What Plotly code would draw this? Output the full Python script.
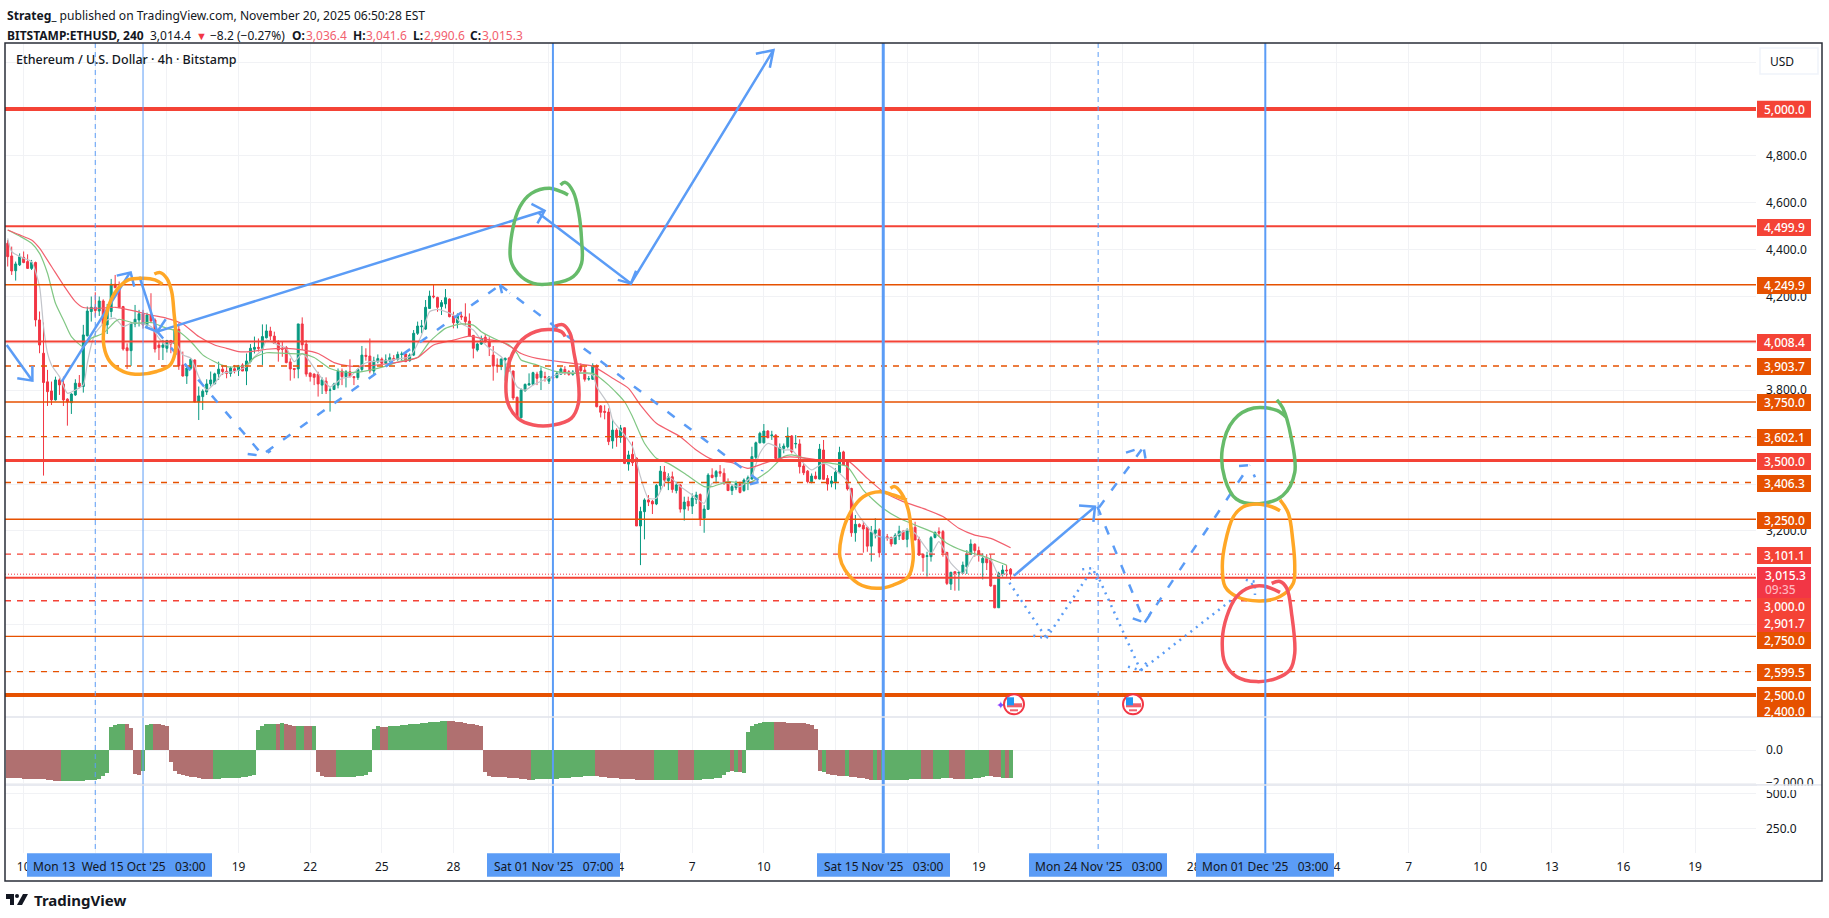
import pandas as pd
import plotly.graph_objects as go

W, H = 1829, 918

# ---------------- data ----------------
bar_start = pd.Timestamp("2025-10-09 11:00")
opens = [4427,4373,4310,4335,4367,4349,4320,4345,4100,3958,
3836,3797,3759,3844,3827,3762,3747,3780,3830,3816,
4033,4136,4154,4138,4181,4079,4136,4252,4239,4157,
3981,3969,4083,4100,4126,4079,4121,4100,3993,3983,
3979,4012,3998,4060,3908,3861,3894,3929,3750,3773,
3793,3827,3827,3870,3890,3881,3872,3892,3884,3908,
3882,3922,3975,3983,3979,4024,4053,4031,4003,3979,
3982,3921,3893,3891,4083,3997,3874,3869,3868,3822,
3839,3800,3803,3822,3882,3858,3879,3858,3854,3889,
3949,3946,3882,3922,3933,3915,3925,3936,3932,3953,
3955,3926,3950,4043,4071,4061,4149,4202,4196,4157,
4168,4189,4117,4088,4117,4113,4095,4034,3972,3997,
4026,4007,3950,3908,3901,3929,3938,3882,3770,3683,
3798,3822,3825,3869,3854,3858,3839,3856,3854,3869,
3889,3879,3868,3876,3903,3886,3848,3847,3905,3733,
3710,3707,3584,3630,3599,3640,3485,3527,3511,3221,
3282,3332,3326,3315,3393,3451,3414,3431,3372,3396,
3293,3326,3306,3335,3355,3254,3292,3438,3431,3453,
3446,3407,3372,3384,3403,3372,3410,3421,3514,3576,
3576,3626,3606,3608,3509,3552,3559,3605,3571,3571,
3477,3455,3410,3434,3421,3545,3424,3403,3410,3448,
3537,3495,3381,3192,3228,3224,3215,3135,3190,3204,
3107,3175,3172,3144,3178,3197,3164,3195,3215,3165,
3100,3091,3090,3172,3197,3197,3108,2973,3026,3020,
3019,3047,3100,3143,3116,3064,3083,3079,2968,2872,3016,3033,3036.4]
highs = [4441,4413,4349,4384,4392,4380,4356,4349,4136,4089,
3887,3837,3858,3851,3858,3766,3787,3847,3865,4079,
4157,4200,4218,4200,4188,4168,4275,4292,4264,4160,
4000,4089,4164,4143,4143,4131,4214,4107,4008,4015,
4015,4015,4079,4086,3965,3901,3937,3932,3816,3804,
3847,3880,3875,3922,3908,3901,3901,3908,3908,3915,
3957,3997,4029,4021,4081,4081,4071,4050,4014,4007,
3989,3936,3893,4083,4111,4014,3875,3872,3879,3855,
3855,3812,3832,3893,3893,3886,3932,3861,3893,3989,
3979,4021,3943,3953,3940,3953,3957,3950,3965,3965,
3957,3957,4057,4093,4100,4185,4225,4253,4199,4185,
4232,4192,4135,4128,4135,4171,4128,4036,4003,4033,
4040,4026,3989,3936,3936,3940,3940,3884,3773,3808,
3829,3872,3879,3879,3898,3879,3861,3865,3879,3898,
3903,3886,3886,3915,3915,3901,3861,3915,3911,3737,
3736,3723,3676,3638,3652,3642,3542,3581,3514,3303,
3339,3353,3332,3400,3477,3477,3446,3453,3410,3400,
3346,3346,3360,3367,3360,3310,3446,3467,3460,3481,
3467,3424,3396,3414,3410,3424,3436,3559,3581,3623,
3656,3630,3627,3613,3573,3573,3642,3609,3609,3591,
3488,3460,3445,3453,3571,3588,3438,3434,3467,3559,
3542,3502,3384,3268,3232,3239,3218,3221,3254,3211,
3190,3187,3175,3190,3222,3204,3211,3218,3239,3175,
3104,3111,3178,3197,3215,3204,3111,3026,3026,3029,
3069,3118,3164,3147,3133,3104,3101,3100,2969,3026,3054,3054,3041.6]
lows = [4328,4292,4268,4330,4342,4318,4313,4072,3958,3436,
3733,3737,3756,3780,3733,3649,3699,3776,3809,3790,
4029,4093,4114,4117,4043,4040,4111,4235,4150,3969,
3891,3904,4069,4072,4063,4069,4086,3961,3929,3929,
3961,3958,3958,3887,3858,3827,3887,3749,3673,3716,
3780,3816,3827,3844,3865,3851,3858,3872,3861,3882,
3822,3915,3957,3965,3908,4021,4014,3997,3922,3943,
3915,3841,3851,3851,3972,3858,3837,3822,3773,3784,
3784,3709,3801,3808,3822,3812,3855,3822,3844,3879,
3926,3872,3869,3915,3912,3912,3922,3926,3926,3926,
3922,3922,3946,4036,4043,4057,4149,4192,4135,4121,
4149,4111,4064,4064,4100,4078,4029,3936,3965,3993,
4003,3946,3841,3875,3886,3841,3879,3758,3680,3680,
3794,3822,3822,3822,3801,3837,3827,3837,3851,3865,
3865,3862,3862,3865,3875,3837,3841,3844,3727,3684,
3676,3566,3551,3559,3576,3485,3457,3477,3221,3054,
3164,3306,3272,3310,3367,3389,3374,3363,3360,3278,
3244,3286,3272,3315,3221,3192,3289,3424,3403,3431,
3396,3372,3353,3374,3360,3367,3374,3420,3495,3573,
3573,3595,3588,3505,3495,3531,3552,3531,3552,3445,
3438,3403,3403,3420,3420,3420,3372,3386,3377,3445,
3481,3372,3175,3154,3215,3107,3111,3069,3168,3087,
3104,3158,3133,3144,3161,3161,3130,3182,3161,3093,
3026,3005,3069,3168,3175,3090,2969,2948,2945,2945,
3016,3016,3097,3090,3069,2993,3033,2962,2870,2872,3005,3005,2990.6]
closes = [4370,4309,4339,4370,4345,4320,4345,4100,3993,3833,
3794,3759,3844,3823,3759,3750,3784,3830,3816,4036,
4138,4154,4140,4181,4079,4143,4252,4238,4153,3976,
3969,4086,4103,4126,4079,4121,4096,3976,3982,3993,
4012,3998,4060,3904,3861,3895,3932,3750,3776,3796,
3827,3844,3870,3890,3880,3872,3895,3884,3904,3882,
3925,3979,3983,3979,4029,4053,4031,4000,3972,3975,
3918,3891,3889,4083,3994,3869,3858,3855,3827,3844,
3797,3801,3827,3881,3858,3879,3858,3854,3889,3950,
3945,3882,3925,3935,3915,3929,3939,3929,3953,3955,
3922,3950,4043,4074,4074,4154,4202,4199,4154,4174,
4195,4114,4088,4117,4113,4093,4031,3979,3997,4021,
4007,3986,3903,3903,3933,3936,3884,3767,3684,3801,
3825,3828,3875,3851,3882,3855,3856,3851,3872,3891,
3875,3868,3878,3903,3884,3847,3849,3905,3730,3706,
3706,3581,3630,3599,3639,3488,3524,3491,3221,3283,
3332,3323,3315,3394,3455,3417,3431,3377,3396,3293,
3323,3306,3340,3353,3251,3293,3438,3428,3453,3446,
3403,3372,3389,3403,3364,3417,3427,3517,3576,3616,
3626,3598,3609,3509,3555,3562,3605,3538,3573,3474,
3448,3410,3434,3423,3549,3420,3400,3413,3450,3535,
3481,3379,3192,3228,3218,3208,3135,3194,3204,3107,
3175,3171,3144,3181,3199,3164,3201,3215,3161,3097,
3086,3094,3171,3194,3190,3107,2976,3023,3019,3023,
3054,3100,3144,3116,3097,3083,3064,2965,2872,3019,3033,3030,3015.3]

# moving averages, sampled at bar numbers
ma_red_bar = [0,3,6,8,11,14,17,19,23,27,32,36,40,44,48,52,55,58,61,65,70,74,78,82,86,91,95,99,103,107,112,116,119,124,127,129,133,137,142,147,152,156,159,163,169,173,177,182,186,190,195,199,204,211,216,220,225,230,235,239,243,247,252]
ma_red = [4484,4463,4441,4406,4328,4249,4178,4153,4150,4154,4138,4121,4107,4083,4029,3993,3979,3965,3965,3975,3979,3972,3957,3918,3903,3905,3912,3922,3940,3993,4014,4031,4021,4007,3979,3957,3936,3926,3915,3903,3851,3808,3737,3659,3602,3545,3505,3491,3467,3488,3514,3514,3502,3500,3424,3367,3325,3296,3261,3211,3182,3168,3128]
ma_green_bar = [0,3,6,8,10,12,14,16,19,21,24,27,28,32,36,40,43,46,49,52,55,58,60,62,65,70,74,77,81,84,87,91,95,99,103,106,110,114,117,119,124,126,128,129,133,137,142,147,151,155,157,160,163,166,170,175,177,181,186,191,195,197,202,207,211,215,220,224,228,233,236,240,245,251]
ma_green = [4484,4458,4427,4384,4299,4171,4100,4029,3986,4022,4043,4093,4103,4086,4089,4064,4050,4008,3951,3922,3901,3901,3908,3940,3960,3957,3955,3940,3893,3879,3876,3886,3903,3926,3940,4007,4064,4083,4078,4050,4007,3993,3957,3929,3908,3883,3872,3872,3822,3751,3687,3574,3510,3488,3446,3389,3389,3410,3403,3453,3517,3524,3502,3488,3474,3374,3296,3254,3225,3190,3147,3116,3093,3054]
ma_gray_bar = [0,1,4,6,8,9,10,11,13,15,17,19,20,21,22,25,27,29,31,33,36,38,40,42,44,46,48,50,52,54,57,60,62,64,65,68,70,72,74,75,78,81,84,86,89,91,95,99,101,104,106,108,112,114,117,119,121,124,126,128,130,132,135,139,143,147,148,151,152,155,157,159,161,163,166,169,172,175,177,181,184,187,189,191,195,197,200,202,205,208,211,213,216,218,222,226,228,232,234,237,240,243,247,249,251]
ma_gray = [4448,4392,4363,4349,4242,4072,3958,3908,3858,3787,3801,3823,3915,3993,4043,4100,4107,4072,4086,4086,4072,4022,3993,4008,3951,3937,3858,3801,3830,3872,3880,3901,3943,3972,4014,3993,3979,3922,3957,3943,3872,3815,3851,3858,3908,3922,3926,3936,3943,4036,4135,4145,4121,4085,4057,4014,3979,3943,3893,3815,3801,3822,3846,3872,3875,3865,3815,3737,3673,3609,3559,3431,3339,3339,3431,3389,3353,3318,3403,3403,3389,3438,3531,3573,3545,3545,3488,3460,3488,3460,3410,3289,3218,3182,3168,3204,3190,3104,3154,3062,3019,3097,3076,3012,3019]

# lower oscillator pane
osc_values = [-1697,-1697,-1717,-1717,-1737,-1737,-1737,-1737,-1757,-1757,-1798,-1818,-1858,-1879,
-1899,-1899,-1899,-1879,-1858,-1858,-1838,-1818,-1798,-1737,-1596,-1394,
1374,1515,1596,1596,1555,1333,-1434,-1495,-1293,1535,1596,1596,1576,1515,1475,
-747,-1293,-1434,-1535,-1596,-1636,-1656,-1697,-1737,-1757,-1778,
-1757,-1737,-1697,-1697,-1677,-1677,-1677,-1656,-1636,-1576,-1495,
1232,1434,1576,1596,1596,1596,1636,1576,1515,1475,1434,1454,1475,1475,1475,
-1353,-1596,-1636,-1656,-1656,
-1656,-1656,-1636,-1636,-1616,-1596,-1576,-1495,-1353,
1293,1475,1414,1414,
1434,1434,1454,1515,1535,1555,1576,1596,1616,1636,1677,1697,1717,1737,1778,
1757,1737,1697,1677,1636,1596,1555,1515,1454,
-1353,-1596,-1616,-1636,-1656,-1656,-1677,-1697,-1717,-1737,-1757,-1798,
-1798,-1737,-1737,-1737,-1737,-1737,-1737,-1677,-1677,-1677,-1616,-1616,-1616,-1555,-1555,-1555,
-1576,-1616,-1656,-1677,-1697,-1717,-1737,-1737,-1757,-1778,-1798,-1818,-1838,-1838,-1838,
-1838,-1838,-1818,-1798,-1798,-1798,-1798,-1798,-1798,-1798,
-1798,-1798,-1737,-1737,-1737,-1717,-1677,-1535,-1333,-1293,-1333,-1333,-1374,
1091,1475,1596,1656,1697,1717,1717,
1717,1717,1717,1656,1656,1656,1656,1616,1596,1535,1293,
-1293,-1313,-1454,-1495,-1515,-1555,-1555,-1555,
-1616,-1656,-1697,-1717,-1778,-1798,-1798,-1798,
-1798,-1798,-1798,-1798,-1798,-1798,-1798,-1737,-1737,-1737,
-1737,-1737,-1737,-1737,-1737,-1677,-1677,-1697,-1737,-1737,-1737,
-1737,-1737,-1697,-1677,-1616,-1596,-1576,-1636,-1656,-1677,-1677,-1677]
osc_up = ([0]*14+[1]*16+[0]*4+[1]*3+[0]*15+[1]*16+[0]*1+[1]*1+[0]*3+[1]*2+[0]*2+[1]*1+[0]*5+[1]*11
          +[0]*2+[1]*15+[0]*21+[1]*16+[0]*15+[1]*6+[0]*4+[1]*9+[0,1,0]+[1]*8+[0]*12+[1]+[0]*5+[1]+[0]*6
          +[1,0]+[1]*10+[0]*3+[1]*4+[0]*4+[1]*6+[0]*3+[1,0,1])

level_values = [5000.0,4499.9,4249.9,4008.4,3903.7,3750.0,3602.1,3500.0,3406.3,3250.0,3101.1,3000.0,2901.7,2750.0,2599.5,2500.0]
last_price = 3015.3
price_ticks = [5200,5000,4800,4600,4400,4200,4000,3800,3600,3400,3200,3000,2800,2600,2400]
price_tick_labels = ["","","4,800.0","4,600.0","4,400.0","4,200.0","","3,800.0","","","3,200.0","","","",""]
osc_ticks = [0,-2000]
vol_ticks = [500,250]
day_ticks = ["2025-10-10","2025-10-13","2025-10-16","2025-10-19","2025-10-22","2025-10-25","2025-10-28",
             "2025-11-01","2025-11-04","2025-11-07","2025-11-10","2025-11-13","2025-11-16","2025-11-19",
             "2025-11-22","2025-11-25","2025-11-28","2025-12-01","2025-12-04","2025-12-07","2025-12-10",
             "2025-12-13","2025-12-16","2025-12-19"]
day_labels = ["10","","","19","22","25","28","","4","7","10","","","19","","","28","","4","7","10","13","16","19"]

# hand drawings: [bar number, price]; None separates strokes
solid_bar = [-0.25,6.2,None,6.2,6.2,2.4,None,13.6,30.7,None,27.4,30.9,31.8,None,33.1,37.6,None,39.7,37.6,34.5,None,37.6,134.9,None,131.6,134.9,133.1,None,
             133.5,156.6,192.4,None,153.3,156.6,157.9,None,188,192.4,191.5,None,252.8,273.2,None,269.2,273.2,272.8]
solid_px = [3993,3841,None,3904,3841,3851,None,3837,4302,None,4289,4302,4242,None,4285,4050,None,4103,4050,4071,None,4050,4566,None,4595,4566,4512,None,
            4554,4256,5251,None,4271,4256,4310,None,5236,5251,5176,None,3008,3303,None,3308,3303,3239]
dash_bar = [37.6,63.6,None,60.3,64.1,66.1,None,64.9,123.7,None,124.2,123.7,126.2,None,123.7,189,None,186.5,189,189.6,None,
            274.2,285.4,None,281,285.4,286,None,273.8,285.7,None,282.7,285.7,287.4,None,285.7,312.1,None,309.4,312.1,313.4]
dash_px = [4050,3532,None,3528,3520,3542,None,3537,4249,None,4214,4249,4214,None,4249,3410,None,3399,3410,3460,None,
           3300,3558,None,3534,3558,3498,None,3303,2809,None,2827,2809,2855,None,2809,3481,None,3477,3481,3429]
dot_bar = [251.7,261,None,257.7,261,261.7,None,261,272.7,None,270,272.7,273.8,None,273.6,284.7,None,281.5,284.7,286.6,None,284.7,313.4,None,311.1,313.4,313.4]
dot_px = [2979,2742,None,2753,2742,2785,None,2742,3041,None,3036,3041,2988,None,3019,2604,None,2621,2604,2649,None,2604,2983,None,2991,2983,2927]

orange1_bar = [36.85,38.3,39.95,41.2,41.8,42.3,42.04,40.8,37.4,33.2,29.06,25.7,24.2,24.2,25.3,27.4,30.3,34.1,37,38.9]
orange1_px = [4296,4302,4278,4221,4128,4029,3958,3908,3880,3868,3880,3922,3986,4072,4157,4228,4271,4278,4271,4252]
green1_bar = [138.9,140.1,142.1,143.5,144.2,144.2,142.1,137.1,132.1,128.2,126.4,126.7,128.7,131.6,136.1,139.1,140.8]
green1_px = [4676,4687,4647,4555,4441,4342,4285,4256,4256,4299,4356,4470,4583,4640,4662,4647,4633]
red1_bar = [137.6,139.6,141.3,142.3,143.3,143.4,141.6,137.1,132.1,128.2,125.7,125.2,126.2,129.2,134.1,139.1,140.1]
red1_px = [4074,4079,4043,3958,3858,3744,3680,3652,3652,3680,3744,3830,3929,4015,4057,4050,4029]
orange2_bar = [221.8,222.9,224.6,226.3,227.1,227.5,226.3,222.5,218.3,213.7,210.4,209.1,209.5,211.6,215,219.2,222.5,225.9]
orange2_px = [3382,3389,3360,3289,3190,3076,3005,2969,2955,2976,3033,3090,3175,3275,3346,3367,3353,3332]
green2_bar = [318.9,320.4,322.5,323.4,320.4,314.5,308.7,305.8,305.2,308.1,313.1,318.9,321.3]
green2_px = [3759,3724,3599,3450,3351,3316,3336,3425,3550,3674,3724,3714,3684]
orange3_bar = [319.7,317.6,313.8,310.5,308,305.9,305.2,305.9,308.8,314.7,319.7,323,323.4,322.9,321.8,319.7]
orange3_px = [3286,3303,3315,3303,3261,3147,3047,2962,2920,2901,2920,2976,3047,3161,3275,3332]
red3_bar = [317.6,319.7,321.4,322.6,323.4,322.2,318.8,313.8,308.8,305.9,305.2,306.3,308.8,312.1,315.5,319.7]
red3_px = [2976,2984,2955,2848,2678,2607,2571,2557,2578,2635,2735,2834,2920,2959,2965,2938]

vline_thin_dates = ["2025-10-15 03:00"]
vline_dash_dates = ["2025-10-13 03:00","2025-11-24 03:00"]
vline_bold_dates = ["2025-11-01 07:00","2025-12-01 03:00"]
vline_heavy_dates = ["2025-11-15 03:00"]

price_tag_text = ["5,000.0","4,499.9","4,249.9","4,008.4","3,903.7","3,750.0","3,602.1","3,500.0","3,406.3","3,250.0","3,101.1","3,000.0","2,901.7","2,750.0","2,599.5","2,500.0"]

# ---------------- styling ----------------
RED, ORANGE, BLUE = "#f44336", "#e65100", "#5b9cf6"
UP, DOWN = "#089981", "#f23645"
INK = "#131722"
FONT = "Noto Sans"
GRID = "#f1f2f5"
THIN = 1.4
level_style = [(RED,4,"solid"),(RED,2,"solid"),(ORANGE,THIN,"solid"),(RED,2,"solid"),(ORANGE,THIN,"6px,6px"),(ORANGE,THIN,"solid"),
               (ORANGE,THIN,"6px,6px"),(RED,3,"solid"),(ORANGE,THIN,"6px,6px"),(ORANGE,THIN,"solid"),(RED,THIN,"6px,6px"),(RED,2,"solid"),
               (RED,THIN,"6px,6px"),(ORANGE,THIN,"solid"),(ORANGE,THIN,"6px,6px"),(ORANGE,4,"solid")]
tag_style = [RED,RED,ORANGE,RED,ORANGE,ORANGE,ORANGE,RED,ORANGE,ORANGE,RED,RED,RED,ORANGE,ORANGE,ORANGE]
tag_center = [109.3,227.5,285.5,342.5,366.5,402.5,437.5,461.5,483.5,520.5,555.5,606.5,623.5,640.5,672.5,695.5]

def bar_time(i):
    return bar_start + pd.Timedelta(hours=4) * i

def bar_times(seq):
    return [None if i is None else bar_time(i) for i in seq]

def PX(x): return x / W
def PY(y): return 1 - y / H

X0, X1, TOP, P1, P2, P3, BOT = 5, 1756, 43, 717, 785, 853, 881
x_left, x_right = bar_time(-0.68), bar_time(439.3)

times = [bar_time(i) for i in range(len(opens))]
fig = go.Figure()

fig.add_trace(go.Candlestick(x=times, open=opens, high=highs, low=lows, close=closes, xaxis="x", yaxis="y",
    increasing=dict(line=dict(color=UP, width=1), fillcolor=UP),
    decreasing=dict(line=dict(color=DOWN, width=1), fillcolor=DOWN), whiskerwidth=0, hoverinfo="skip"))
for bars, vals, col in [(ma_gray_bar, ma_gray, "#c2c4ca"), (ma_green_bar, ma_green, "#81c784"), (ma_red_bar, ma_red, "#f2606e")]:
    fig.add_trace(go.Scatter(x=bar_times(bars), y=vals, mode="lines", line=dict(color=col, width=1.2, shape="spline", smoothing=0.6), hoverinfo="skip"))

for v, (c, w, d) in zip(level_values, level_style):
    fig.add_trace(go.Scatter(x=[x_left, x_right], y=[v, v], mode="lines", line=dict(color=c, width=w, dash=d), hoverinfo="skip"))
fig.add_trace(go.Scatter(x=[x_left, x_right], y=[last_price, last_price], mode="lines", line=dict(color=DOWN, width=1, dash="1px,2px"), hoverinfo="skip"))

fig.add_trace(go.Scatter(x=bar_times(solid_bar), y=solid_px, mode="lines", line=dict(color=BLUE, width=2.5), connectgaps=False, hoverinfo="skip"))
fig.add_trace(go.Scatter(x=bar_times(dash_bar), y=dash_px, mode="lines", line=dict(color=BLUE, width=2.5, dash="9px,12px"), connectgaps=False, hoverinfo="skip"))
fig.add_trace(go.Scatter(x=bar_times(dot_bar), y=dot_px, mode="lines", line=dict(color=BLUE, width=2.5, dash="2px,5px"), connectgaps=False, hoverinfo="skip"))
for bars, vals, col in [(orange1_bar, orange1_px, "#ffa726"), (green1_bar, green1_px, "#66bb6a"), (red1_bar, red1_px, "#f4565f"),
                        (orange2_bar, orange2_px, "#ffa726"), (green2_bar, green2_px, "#66bb6a"),
                        (orange3_bar, orange3_px, "#ffa726"), (red3_bar, red3_px, "#f4565f")]:
    fig.add_trace(go.Scatter(x=bar_times(bars), y=vals, mode="lines", line=dict(color=col, width=3.5, shape="spline", smoothing=1), hoverinfo="skip"))

osc_colors = ["#5fae68" if u else "#b07070" for u in osc_up][:len(osc_values)]
fig.add_trace(go.Bar(x=times, y=osc_values, xaxis="x", yaxis="y2", marker=dict(color=osc_colors, line=dict(width=0)),
                     width=4 * 3600 * 1000, hoverinfo="skip"))
fig.add_trace(go.Scatter(x=[x_left], y=[vol_ticks[0]], xaxis="x", yaxis="y3", mode="markers", marker=dict(opacity=0), hoverinfo="skip"))

def ydom(top, bottom):
    return [PY(bottom), PY(top)]

PRICE_RANGE = [2406, 5281.6]
common_y = dict(side="right", anchor="x", ticks="", ticklen=0, ticklabelstandoff=9, showline=False, zeroline=False, automargin=False,
                gridcolor=GRID, gridwidth=1, tickfont=dict(family=FONT, size=12, color=INK), tickmode="array")

day_dates = [pd.Timestamp(d) + pd.Timedelta(hours=3) for d in day_ticks]
fig.update_layout(
    width=W, height=H, autosize=False, margin=dict(l=0, r=0, t=0, b=0, pad=0), paper_bgcolor="white", plot_bgcolor="white",
    showlegend=False, font=dict(family=FONT, color=INK, size=12), bargap=0,
    xaxis=dict(domain=[PX(X0), PX(X1)], range=[x_left, x_right], type="date", anchor="y3", rangeslider=dict(visible=False), automargin=False,
               tickmode="array", tickvals=day_dates, ticktext=day_labels, ticks="", ticklabelstandoff=5, showline=False, zeroline=False,
               gridcolor=GRID, gridwidth=1, tickfont=dict(family=FONT, size=12, color=INK)),
    yaxis=dict(domain=ydom(TOP, P1), range=PRICE_RANGE, tickvals=price_ticks, ticktext=price_tick_labels, **common_y),
    yaxis2=dict(domain=ydom(P1, P2), range=[-2121, 2000], tickvals=osc_ticks, ticktext=["0.0", "\u22122,000.0"], **common_y),
    yaxis3=dict(domain=ydom(P2, P3), range=[78.6, 564], tickvals=vol_ticks, ticktext=["500.0", "250.0"], **common_y),
)

shapes, notes = [], []

def rect(x0, y0, x1, y1, fill, line=None, lw=0, **kw):
    shapes.append(dict(type="rect", xref="paper", yref="paper", x0=PX(x0), x1=PX(x1), y0=PY(y0), y1=PY(y1),
                       fillcolor=fill, line=dict(color=line or fill, width=lw), **kw))

def text(x, y, s, size=12, color=INK, anchor="left", family=FONT, weight=400):
    notes.append(dict(xref="paper", yref="paper", x=PX(x), y=PY(y), text=s, showarrow=False, xanchor=anchor, yanchor="middle",
                      font=dict(family=family, size=size, color=color, weight=weight), align="left", borderpad=0))

for dates, w, d in [(vline_thin_dates, 1, "solid"), (vline_dash_dates, 1, "5px,4px"), (vline_bold_dates, 2, "solid"), (vline_heavy_dates, 3, "solid")]:
    for dt in dates:
        shapes.append(dict(type="line", xref="x", yref="paper", x0=dt, x1=dt, y0=PY(TOP), y1=PY(P3), line=dict(color=BLUE, width=w, dash=d)))

for y in (P1, P2):
    shapes.append(dict(type="line", xref="paper", yref="paper", x0=PX(X0), x1=PX(1822), y0=PY(y), y1=PY(y), line=dict(color="#e0e3eb", width=1.5)))
rect(1757, 785.8, 1821, 790, "white")

for c, col, s in zip(tag_center, tag_style, price_tag_text):
    rect(1757, c - 8.5, 1811, c + 8.5, col)
    text(1784, c, s, color="white", anchor="center", weight=500)
rect(1757, 567, 1811, 598, "#f23645")
text(1764, 575, "3,015.3", color="white", weight=500)
text(1764, 589, "09:35", color="#ffb3bc", weight=500)
rect(1757, 704, 1811, 717, ORANGE)
text(1784, 711.5, "2,400.0", color="white", anchor="center", weight=500)

rect(1760, 48, 1818, 74, "white", line="#f0f3fa", lw=1.5)
text(1769, 61, "USD")

for x0, x1, s in [(27, 212, "Mon 13\u00a0\u00a0Wed 15 Oct '25\u00a0\u00a0\u00a003:00"), (487, 620, "Sat 01 Nov '25\u00a0\u00a0\u00a007:00"),
                  (817, 950, "Sat 15 Nov '25\u00a0\u00a0\u00a003:00"), (1029, 1167, "Mon 24 Nov '25\u00a0\u00a0\u00a003:00"),
                  (1196, 1334, "Mon 01 Dec '25\u00a0\u00a0\u00a003:00")]:
    rect(x0, 853.3, x1, 876.7, BLUE)
    text((x0 + x1) / 2, 866, s, anchor="center")

for cx in (1014, 1133):
    cy = 704.3
    shapes.append(dict(type="circle", xref="paper", yref="paper", x0=PX(cx - 10), x1=PX(cx + 10), y0=PY(cy + 10), y1=PY(cy - 10),
                       fillcolor="white", line=dict(color="#f23645", width=2)))
    rect(cx - 7, cy - 1, cx + 8, cy + 3, "#f0616d")
    rect(cx - 4, cy + 5, cx + 4, cy + 7, "#f0616d")
    rect(cx - 7, cy - 7, cx - 0, cy + 1, "#2196f3")
text(1000, 704, "\u2726", size=11, color="#7c4dff", anchor="center")

rect(X0, TOP, 1822, BOT, "rgba(0,0,0,0)", line="#2a2e39", lw=1.5)

# header
text(6, 15, "<b>Strateg_</b> published on TradingView.com, November 20, 2025 06:50:28 EST", size=12.1)
red_val = "#f2606e"
text(6, 35, "<b>BITSTAMP:ETHUSD, 240</b>", size=12)
text(149, 35, "3,014.4", size=12)
text(195, 35, "\u25bc", size=11, color="#f23645")
text(209, 35, "\u22128.2 (\u22120.27%)", size=12)
for x, s in [(291, "O:"), (352, "H:"), (412, "L:"), (469, "C:")]:
    text(x, 35, f"<b>{s}</b>", size=12)
for x, s in [(305, "3,036.4"), (365, "3,041.6"), (423, "2,990.6"), (481, "3,015.3")]:
    text(x, 35, s, size=12, color=red_val)
text(15, 60, "Ethereum / U.S. Dollar \u00b7 4h \u00b7 Bitstamp", size=12.5, color=INK, weight=500)

def poly(points, fill):
    d = "M " + " L ".join(f"{PX(x):.5f},{PY(y):.5f}" for x, y in points) + " Z"
    shapes.append(dict(type="path", xref="paper", yref="paper", path=d, fillcolor=fill, line=dict(width=0)))
poly([(6, 894), (14, 894), (14, 905), (10, 905), (10, 899), (6, 899)], INK)
shapes.append(dict(type="circle", xref="paper", yref="paper", x0=PX(15), x1=PX(19), y0=PY(898), y1=PY(894), fillcolor=INK, line=dict(width=0)))
poly([(23, 894), (28, 894), (22, 905), (17, 905)], INK)
text(33, 900, "<b>TradingView</b>", size=15, color=INK)

fig.update_layout(shapes=shapes, annotations=notes)
fig.write_html("out.html", config=dict(displayModeBar=False),
               post_script="document.body.style.margin='0';document.documentElement.style.overflow='hidden';")
